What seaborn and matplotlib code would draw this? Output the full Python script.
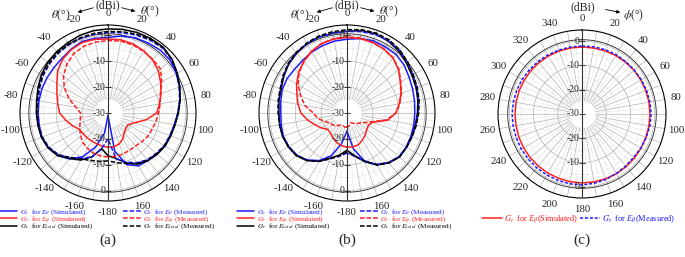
import numpy as np
import pandas as pd
import seaborn as sns
import matplotlib.pyplot as plt

# ---- data (gain in dBi) ----
ANG = [-180, -170, -160, -150, -140, -130, -120, -110, -100, -90, -80, -70, -60, -50, -40, -30, -20, -10,
       0, 10, 20, 30, 40, 50, 60, 70, 80, 90, 100, 110, 120, 130, 140, 150, 160, 170, 180]
PHI = [0, 10, 20, 30, 40, 50, 60, 70, 80, 90, 100, 110, 120, 130, 140, 150, 160, 170, 180,
       190, 200, 210, 220, 230, 240, 250, 260, 270, 280, 290, 300, 310, 320, 330, 340, 350, 360]

# (a)
A_TH_SIM = [-29.0, -22.0, -16.0, -10.5, -6.8, -4.5, -3.2, -2.8, -3.0, -3.0, -2.9, -2.8, -2.8, -2.7, -2.4, -1.5, -0.6, -0.7,
            -0.8, 0.2, 0.9, 1.2, 1.6, 1.5, 0.5, -0.6, -1.8, -3.0, -4.0, -4.4, -4.6, -5.3, -6.0, -6.4, -8.8, -15.0, -29.0]
A_PH_SIM = [-16.8, -17.0, -17.3, -17.5, -17.5, -17.5, -17.3, -15.5, -13.5, -11.3, -10.3, -9.0, -7.2, -4.6, -2.8, -1.7, -1.0, -1.1,
            -1.4, -1.3, -1.6, -2.3, -3.2, -4.6, -6.5, -8.2, -9.8, -11.2, -15.0, -19.0, -21.0, -21.0, -20.2, -18.5, -17.3, -16.8, -16.8]
A_TOT_SIM = [-13.5, -16.0, -12.0, -9.0, -7.0, -4.5, -3.2, -2.6, -2.5, -2.3, -2.0, -1.2, -0.3, 0.4, 0.9, 1.3, 1.9, 2.3,
             2.5, 2.8, 3.1, 3.2, 3.2, 2.3, 0.9, -0.5, -1.7, -2.8, -3.7, -4.2, -4.5, -5.2, -6.0, -7.2, -9.5, -12.2, -13.5]
A_TH_MEAS = [-20.0, -16.0, -12.0, -9.8, -7.4, -5.0, -3.6, -3.0, -2.9, -2.8, -2.6, -1.9, -1.1, -0.5, 0.0, 0.4, 0.7, 0.9,
             1.1, 1.5, 2.0, 2.5, 2.8, 2.1, 0.7, -0.7, -1.9, -3.0, -3.9, -4.5, -4.9, -5.7, -6.4, -7.8, -9.8, -12.0, -20.0]
A_PH_MEAS = [-13.0, -13.2, -13.5, -14.2, -15.0, -16.2, -17.4, -18.5, -19.2, -19.4, -17.5, -14.0, -10.5, -7.5, -5.3, -3.5, -2.6, -2.2,
             -2.0, -1.8, -2.0, -2.5, -3.0, -3.5, -6.0, -8.5, -9.5, -10.5, -11.2, -11.8, -12.2, -12.8, -13.4, -13.4, -13.1, -13.0, -13.0]
A_TOT_MEAS = [-11.5, -11.0, -10.5, -9.5, -7.5, -4.8, -3.4, -2.8, -2.7, -2.5, -2.3, -1.6, -0.8, -0.2, 0.3, 0.7, 1.0, 1.2,
              1.5, 1.9, 2.4, 2.8, 3.0, 2.2, 0.8, -0.6, -1.8, -2.9, -3.8, -4.4, -4.8, -5.5, -6.2, -7.5, -9.2, -10.5, -11.5]

# (b)
B_TH_SIM = [-23.0, -18.0, -12.5, -8.8, -6.2, -4.6, -4.0, -3.8, -4.2, -4.4, -4.0, -3.4, -3.3, -3.6, -3.4, -2.8, -2.3, -1.8,
            -1.5, -0.8, -0.3, -0.5, -0.5, -1.2, -2.3, -3.0, -3.5, -3.8, -3.8, -3.7, -3.6, -3.7, -5.0, -7.0, -10.2, -16.0, -23.0]
B_PH_SIM = [-16.8, -17.2, -18.0, -19.0, -20.0, -20.2, -18.5, -16.8, -14.5, -12.2, -10.8, -9.4, -7.5, -5.6, -4.0, -2.5, -1.4, -1.0,
            -0.8, -0.8, -1.0, -1.5, -2.3, -4.0, -6.2, -7.8, -9.5, -11.2, -14.0, -19.5, -20.5, -20.0, -19.0, -18.0, -17.0, -16.7, -16.8]
B_TOT_SIM = [-15.6, -13.5, -11.5, -8.5, -6.0, -4.4, -3.8, -3.5, -3.6, -3.7, -3.3, -2.9, -1.8, -0.6, 0.2, 0.9, 1.3, 1.3,
             1.6, 2.3, 2.5, 2.0, 1.2, 0.0, -1.0, -1.6, -2.2, -2.8, -3.2, -3.5, -3.5, -3.5, -4.8, -6.8, -10.0, -13.3, -15.6]
B_TH_MEAS = [-14.5, -13.0, -11.2, -8.6, -6.2, -4.7, -4.0, -3.7, -3.6, -3.5, -3.1, -2.6, -1.5, -0.5, 0.3, 0.9, 1.2, 1.3,
             1.5, 1.9, 2.2, 2.2, 1.6, 0.5, -0.6, -1.3, -1.9, -2.5, -3.0, -3.3, -3.5, -3.7, -5.0, -7.0, -10.3, -13.0, -14.5]
B_PH_MEAS = [-24.5, -24.5, -25.0, -24.6, -23.5, -22.8, -22.4, -20.5, -18.5, -17.0, -13.5, -11.0, -8.2, -5.8, -4.0, -2.6, -1.4, -0.8,
             -0.5, -0.6, -1.0, -1.4, -2.2, -3.8, -6.0, -7.6, -9.3, -11.0, -14.5, -20.0, -22.5, -24.0, -24.5, -25.5, -26.0, -25.0, -24.5]
B_TOT_MEAS = [-15.0, -13.2, -11.3, -8.4, -6.0, -4.5, -3.9, -3.6, -3.5, -3.4, -3.0, -2.5, -1.4, -0.3, 0.5, 1.2, 1.7, 1.9,
              2.2, 2.7, 2.9, 2.6, 1.8, 0.6, -0.5, -1.1, -1.7, -2.3, -2.8, -3.2, -3.4, -3.6, -4.9, -6.9, -10.2, -13.2, -15.0]

# (c)
C_SIM = [-2.4, -2.4, -2.3, -2.2, -2.1, -2.0, -2.0, -2.0, -2.0, -2.0, -2.0, -2.0, -1.9,
         -1.8, -1.7, -1.6, -1.6, -1.6, -1.6, -1.7, -1.8, -1.9, -2.0, -2.1, -2.2, -2.3,
         -2.4, -2.4, -2.4, -2.4, -2.4, -2.4, -2.4, -2.4, -2.4, -2.4, -2.4]
C_MEAS = [-2.0, -1.9, -1.8, -1.8, -1.9, -1.9, -1.8, -1.7, -1.6, -1.5, -1.6, -1.8, -2.0,
          -2.2, -2.0, -1.7, -1.3, -1.0, -0.8, -0.8, -0.9, -1.0, -1.0, -1.1, -1.1, -1.2,
          -1.2, -1.2, -1.3, -1.4, -1.5, -1.7, -1.8, -1.9, -2.0, -2.0, -2.0]

TICK_ANG = [0, 20, 40, 60, 80, 100, 120, 140, 160, 180, 200, 220, 240, 260, 280, 300, 320, 340]
THETA_LABELS = ['0', '20', '40', '60', '80', '100', '120', '140', '160',
                '-180', '-160', '-140', '-120', '-100', '-80', '-60', '-40', '-20']
PHI_LABELS = ['0', '20', '40', '60', '80', '100', '120', '140', '160',
              '180', '200', '220', '240', '260', '280', '300', '320', '340']

LEG_AB = [r'$G_r$  for $E_\theta$ (Simulated)', r'$G_r$  for $E_\phi$ (Simulated)', r'$G_r$  for $E_{total}$ (Simulated)',
          r'$G_r$  for $E_\theta$ (Measured)', r'$G_r$  for $E_\phi$ (Measured)', r'$G_r$  for $E_{total}$ (Measured)']
LEG_C = [r'$G_r$  for $E_\theta$(Simulated)', r'$G_r$  for $E_\theta$(Measured)']

BLUE = '#1a1aff'
RED = '#ff1f1f'
BLACK = '#000000'

sns.set_theme(style='white')
plt.rcParams['font.family'] = ['Liberation Serif', 'DejaVu Serif']
plt.rcParams['mathtext.fontset'] = 'stix'
plt.rcParams['axes.unicode_minus'] = False

W, H = 685, 257
fig = plt.figure(figsize=(6.85, 2.57), dpi=100)


def box(cx, cy, r):
    return [(cx - r) / W, (H - cy - r) / H, 2 * r / W, 2 * r / H]


def setup_polar(ax, rmax, ticklabels, rlab):
    ax.set_theta_zero_location('N')
    ax.set_theta_direction(-1)
    ax.set_axisbelow(True)
    ax.set_xticks(np.deg2rad(np.arange(0, 360, 10)))
    ax.set_xticklabels([])
    ax.set_xticks(np.deg2rad(np.arange(5, 360, 10)), minor=True)
    ax.set_yticks([-20, -10, 0])
    ax.set_yticks([-25, -15, -5], minor=True)
    ax.set_yticklabels([])
    ax.grid(which='major', color='#ababab', lw=0.45, ls='-')
    ax.grid(which='minor', color='#c4c4c4', lw=0.45, ls=(0, (1, 1.5)))
    ax.tick_params(axis='both', which='both', length=0)
    ax.spines['polar'].set_linewidth(0.8)
    ax.spines['polar'].set_color('black')
    # angle labels centred on a ring just outside the frame
    for a, lab in zip(TICK_ANG, ticklabels):
        ax.text(np.deg2rad(a), rlab, lab, ha='center', va='center', fontsize=7.8, clip_on=False)
    full = np.linspace(0, 2 * np.pi, 361)
    ax.plot(full, np.full_like(full, 0.6), color='#222222', lw=0.6, zorder=1.1)
    ax.fill_between(full, -30, -24.5, color='white', lw=0, zorder=1)
    ax.plot([0, 0], [-30, rmax], color='#333333', lw=0.8, zorder=3)
    ax.plot([np.pi, np.pi], [-30, rmax], color='#333333', lw=0.8, zorder=3)
    ax.plot([0, 0, 0, 0], [-30, -20, -10, 0], ls='none', marker='_', ms=4, mew=0.7, color='#333333', zorder=3)
    ax.plot([np.pi] * 3, [-20, -10, 0], ls='none', marker='_', ms=4, mew=0.7, color='#333333', zorder=3)
    for r in [-30, -20, -10, 0]:
        ax.annotate(f'{r}', xy=(0, r), xytext=(-1.5, 0), textcoords='offset points',
                    ha='right', va='center', fontsize=7, zorder=4)
    for r in [-20, -10, 0]:
        ax.annotate(f'{r}', xy=(np.pi, r), xytext=(-1.5, 0), textcoords='offset points',
                    ha='right', va='center', fontsize=7, zorder=4)


def curve(ax, ang, vals, color, dashed):
    sns.lineplot(x=np.deg2rad(ang), y=vals, ax=ax, color=color, lw=1.1, sort=False, estimator=None,
                 linestyle=(0, (3, 1.3)) if dashed else '-', zorder=2)
    return ax.lines[-1]


def theta_panel(cx, cy, series, leg_x):
    ax = fig.add_axes(box(cx, cy, 88), projection='polar')
    setup_polar(ax, 4, THETA_LABELS, 8.3)
    handles = []
    for vals, color, dashed in series:
        handles.append(curve(ax, ANG, vals, color, dashed))
    ax.set_ylim(-30, 4)
    ax.set_xlabel('')
    ax.set_ylabel('')
    leg = fig.legend(handles=handles, labels=LEG_AB, ncol=2, loc='upper left',
                     bbox_to_anchor=(leg_x / W, 1 - 207 / H), fontsize=5.2, frameon=False,
                     handlelength=2.4, handletextpad=0.35, columnspacing=4.2, labelspacing=-0.4,
                     borderpad=0, borderaxespad=0)
    for t, c in zip(leg.get_texts(), [BLUE, RED, BLACK, BLUE, RED, BLACK]):
        t.set_color(c)
    # header: (dBi) and theta arrows
    fig.text(cx / W, 1 - 5 / H, '(dBi)', ha='center', va='center', fontsize=8.5)
    ax.annotate('', xy=((cx - 33) / W, 1 - 13 / H), xytext=((cx - 12) / W, 1 - 7 / H),
                xycoords='figure fraction', textcoords='figure fraction', annotation_clip=False,
                arrowprops=dict(arrowstyle='-|>', color='black', lw=0.6, mutation_scale=5))
    ax.annotate('', xy=((cx + 30) / W, 1 - 12 / H), xytext=((cx + 11) / W, 1 - 7 / H),
                xycoords='figure fraction', textcoords='figure fraction', annotation_clip=False,
                arrowprops=dict(arrowstyle='-|>', color='black', lw=0.6, mutation_scale=5))
    fig.text((cx - 47) / W, 1 - 15 / H, r'$\theta$(°)', ha='center', va='center', fontsize=8.5)
    fig.text((cx + 42) / W, 1 - 11 / H, r'$\theta$(°)', ha='center', va='center', fontsize=8.5)
    return ax


theta_panel(108, 113, [(A_TH_SIM, BLUE, False), (A_PH_SIM, RED, False), (A_TOT_SIM, BLACK, False),
                       (A_TH_MEAS, BLUE, True), (A_PH_MEAS, RED, True), (A_TOT_MEAS, BLACK, True)], 0)
theta_panel(347, 113, [(B_TH_SIM, BLUE, False), (B_PH_SIM, RED, False), (B_TOT_SIM, BLACK, False),
                       (B_TH_MEAS, BLUE, True), (B_PH_MEAS, RED, True), (B_TOT_MEAS, BLACK, True)], 237)

# (c) phi cut
axc = fig.add_axes(box(582, 114, 84), projection='polar')
setup_polar(axc, 4.6, PHI_LABELS, 9.5)
h1 = curve(axc, PHI, C_SIM, RED, False)
h2 = sns.lineplot(x=np.deg2rad(PHI), y=C_MEAS, ax=axc, color=BLUE, lw=1.1, sort=False, estimator=None,
                  linestyle=(0, (2, 1.2)), zorder=2).lines[-1]
axc.set_ylim(-30, 4.6)
axc.set_xlabel('')
axc.set_ylabel('')
legc = fig.legend(handles=[h1, h2], labels=LEG_C, ncol=2, loc='upper left',
                  bbox_to_anchor=(482 / W, 1 - 213 / H), fontsize=6.0, frameon=False,
                  handlelength=2.4, handletextpad=0.2, columnspacing=0.3,
                  borderpad=0, borderaxespad=0)
for t, c in zip(legc.get_texts(), [RED, BLUE]):
    t.set_color(c)
fig.text(583 / W, 1 - 7 / H, '(dBi)', ha='center', va='center', fontsize=8.5)
axc.annotate('', xy=(623 / W, 1 - 13 / H), xytext=(603 / W, 1 - 9 / H),
             xycoords='figure fraction', textcoords='figure fraction', annotation_clip=False,
             arrowprops=dict(arrowstyle='-|>', color='black', lw=0.6, mutation_scale=5))
fig.text(634 / W, 1 - 15 / H, r'$\phi$(°)', ha='center', va='center', fontsize=8.5)

for x, lab in [(108, '(a)'), (347, '(b)'), (582, '(c)')]:
    fig.text(x / W, 1 - 240 / H, lab, ha='center', va='center', fontsize=11)

for a in fig.axes:
    if a.get_legend() is not None:
        a.get_legend().remove()

fig.savefig('out.png', dpi=100)
